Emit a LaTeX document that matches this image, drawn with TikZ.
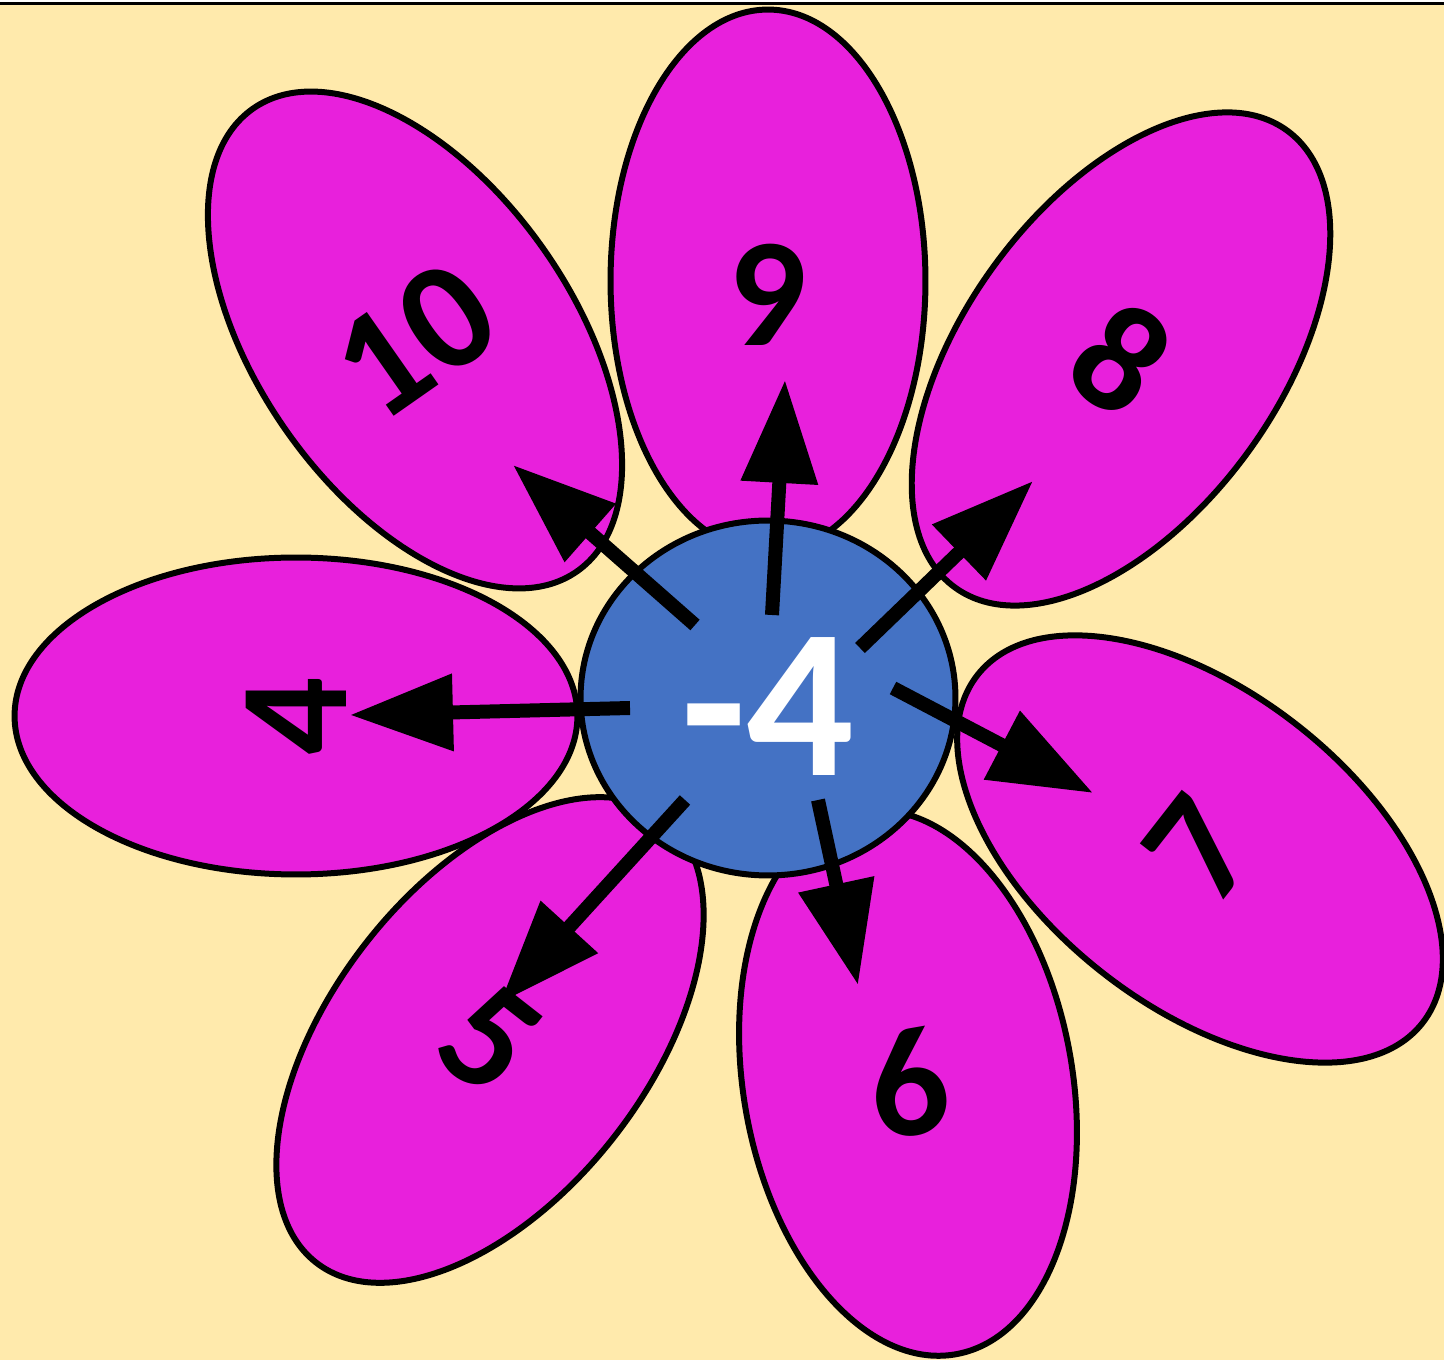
\documentclass[tikz,border=0pt]{standalone}
\usepackage{fontspec}
\setmainfont{Carlito}
\usetikzlibrary{shapes.geometric,arrows.meta}
\definecolor{petalpink}{RGB}{232,32,220}
\definecolor{hubblue}{RGB}{68,114,196}
\definecolor{paper}{RGB}{255,234,172}

\begin{document}
\begin{tikzpicture}[x=0.02cm,y=0.02cm,
  petal/.style={ellipse,draw=black,line width=0.12cm,fill=petalpink,inner sep=0pt,
    minimum width=6.3cm,minimum height=11.3cm,
    font=\fontsize{88}{90}\selectfont\bfseries},
  hub/.style={ellipse,draw=black,line width=0.12cm,fill=hubblue,inner sep=0pt,
    minimum width=7.5cm,minimum height=7.1cm,text=white,text height=3.1cm,
    font=\fontsize{121}{124}\selectfont\bfseries},
  arr/.style={line width=0.28cm,-{Triangle[length=2.06cm,width=1.48cm]}}]
\useasboundingbox (0,0) rectangle (1444,1360);
\fill[paper] (0,0) rectangle (1444,1355);
\draw[line width=0.06cm] (0,1356.5) -- (1444,1356.5);

% petals
\node[petal,rotate=-38] (p5) at (490,320) {5};
\node[petal,rotate=10,minimum width=6.58cm,minimum height=11.02cm] (p6) at (908,277) {6};
\node[petal,rotate=52] (p7) at (1200,511) {7};
\node[petal,rotate=-36] (p8) at (1121,1001) {8};
\node[petal,minimum height=10.86cm,text height=2.6cm] (p9) at (768,1079) {9};
\node[petal,rotate=35] (p10) at (415,1020) {10};
\node[petal,rotate=90,minimum width=6.34cm,minimum height=11.26cm] (p4) at (296,644) {4};

% centre
\node[hub] (hub) at (768,662) {-4};

\foreach \n/\sx/\sy/\tx/\ty in {9/772/745/785/980, 10/695/735/513/895,
    8/860/712/1033/879, 4/630/652/350/645, 7/893/672/1093/567,
    6/818/560/858/375, 5/685/560/500/357}{
  \coordinate (s\n) at (\sx,\sy);
  \coordinate (t\n) at (\tx,\ty);
  \draw[arr] (s\n) -- (t\n);
}
\end{tikzpicture}
\end{document}
